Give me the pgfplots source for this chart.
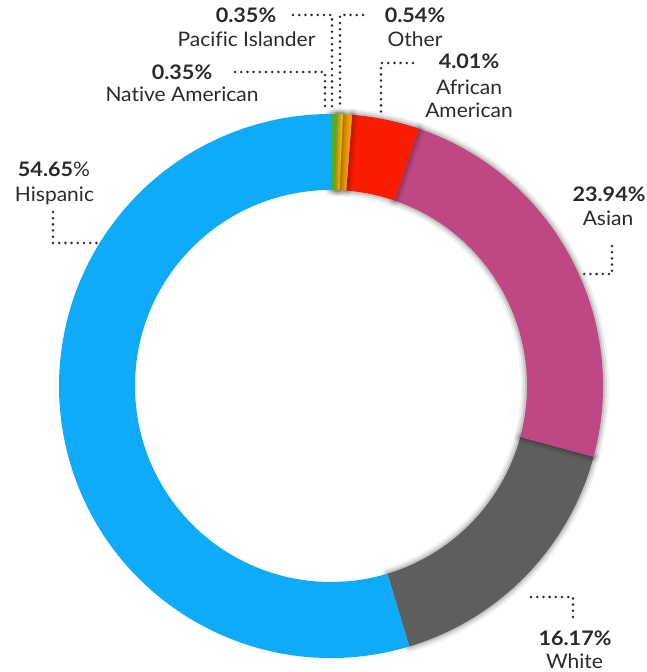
\documentclass[border=0pt]{standalone}
\usepackage{fontspec}
\setmainfont{Lato}[FakeStretch=1.05,Ligatures=CommonOff,BoldFeatures={FakeStretch=1.08}]
\usepackage{pgfplots}
\usepackage{pgfplotstable}
\pgfplotsset{compat=1.18}

\definecolor{c0}{HTML}{4CAF27}
\definecolor{c1}{HTML}{F5C200}
\definecolor{c2}{HTML}{F29D05}
\definecolor{c3}{HTML}{F91C00}
\definecolor{c4}{HTML}{C04882}
\definecolor{c5}{HTML}{5E5E5E}
\definecolor{c6}{HTML}{10ABF8}
\definecolor{txt}{HTML}{2A2A2A}

\pgfplotstableread{
name value
NativeAmerican 0.35
PacificIslander 0.35
Other 0.54
AfricanAmerican 4.01
Asian 23.94
White 16.17
Hispanic 54.65
}\donut

\def\cx{331}\def\cy{286}\def\Ro{272}\def\Ri{196}

% cumulative angles (clockwise from 12 o'clock)
\pgfmathsetmacro\acc{90}
\pgfplotsforeachungrouped \i in {0,...,6}{%
  \pgfplotstablegetelem{\i}{value}\of\donut
  \pgfmathsetmacro\bnd{\acc-3.6*\pgfplotsretval/1.0001}%
  \expandafter\xdef\csname sa\i\endcsname{\acc}%
  \expandafter\xdef\csname sb\i\endcsname{\bnd}%
  \global\let\acc\bnd
}

\newcommand\slicepath[1]{(axis cs:\cx,\cy) ++(\csname sa#1\endcsname:\Ro pt)
  arc[start angle=\csname sa#1\endcsname, end angle=\csname sb#1\endcsname, radius=\Ro pt]
  -- ([shift={(\csname sb#1\endcsname:\Ri pt)}]axis cs:\cx,\cy)
  arc[start angle=\csname sb#1\endcsname, end angle=\csname sa#1\endcsname, radius=\Ri pt] -- cycle}
\newcommand\shadowslice[1]{%
  \draw[overlay,black,opacity=0.05,line width=12pt,line join=round] \slicepath{#1};
  \draw[overlay,black,opacity=0.08,line width=8pt,line join=round] \slicepath{#1};
  \draw[overlay,black,opacity=0.12,line width=4pt,line join=round] \slicepath{#1};
}
\newcommand\fillslice[1]{\fill[overlay,c#1] \slicepath{#1};}

\tikzset{leader/.style={draw=txt,line width=2.8pt,line cap=round,dash pattern=on 0pt off 6.2pt},
  pct/.style={font=\fontsize{20}{24}\selectfont\bfseries,text=txt,anchor=base,inner sep=0pt},
  nm/.style={font=\fontsize{20}{24}\selectfont,text=txt,anchor=base,inner sep=0pt}}

\begin{document}
\begin{tikzpicture}
\begin{axis}[x=1pt,y=1pt,xmin=0,xmax=647,ymin=0,ymax=672,hide axis,clip=false,scale only axis]
\path (axis cs:0,0) rectangle (axis cs:647,672);
% slices: shadows and fills, drawn so that each shadow falls on the previous slice
\shadowslice{5}\fillslice{5}
\shadowslice{4}\fillslice{4}
\shadowslice{3}\fillslice{3}
\shadowslice{2}\fillslice{2}
\shadowslice{1}\fillslice{1}
\shadowslice{0}\fillslice{0}
\fillslice{6}

% leaders
\draw[leader] (axis cs:293,657) -- (axis cs:332,657) -- (axis cs:332,564);
\draw[leader] (axis cs:363,657) -- (axis cs:340,657) -- (axis cs:340,564);
\draw[leader] (axis cs:235,600) -- (axis cs:325,600) -- (axis cs:325,564);
\draw[leader] (axis cs:413,609) -- (axis cs:381,609) -- (axis cs:381,559);
\draw[leader] (axis cs:53,460) -- (axis cs:53,429) -- (axis cs:97,429);
\draw[leader] (axis cs:612,426) -- (axis cs:612,398) -- (axis cs:583,398);
\draw[leader] (axis cs:531,75) -- (axis cs:573,75) -- (axis cs:573,50);

% labels
\node[pct] at (axis cs:246,649.3) {0.35\%};
\node[nm]  at (axis cs:246.5,625) {Pacific Islander};
\node[pct] at (axis cs:182,592.5) {0.35\%};
\node[nm]  at (axis cs:182,570.3) {Native American};
\node[pct] at (axis cs:415,649.3) {0.54\%};
\node[nm]  at (axis cs:415,625) {Other};
\node[pct] at (axis cs:469,603) {4.01\%};
\node[nm]  at (axis cs:469,577.5) {African};
\node[nm]  at (axis cs:469,554) {American};
\node[pct] at (axis cs:54,495.3) {54.65{\mdseries\%}};
\node[nm]  at (axis cs:54.5,470.3) {Hispanic};
\node[pct] at (axis cs:609,470) {23.94\%};
\node[nm]  at (axis cs:608,446) {Asian};
\node[pct] at (axis cs:575,26) {16.17\%};
\node[nm]  at (axis cs:574.5,3) {White};
\end{axis}
\end{tikzpicture}
\end{document}
